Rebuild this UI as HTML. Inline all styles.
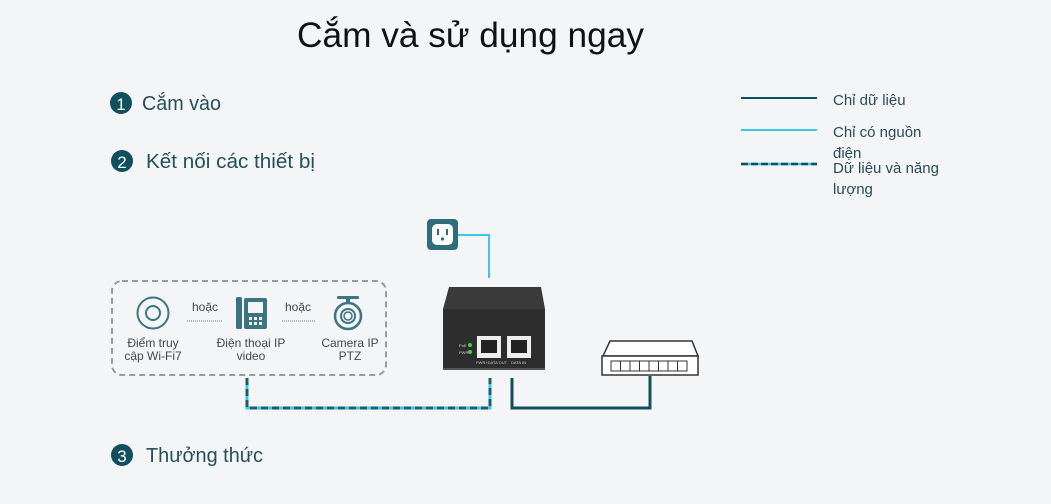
<!DOCTYPE html>
<html><head><meta charset="utf-8"><style>
html,body{margin:0;padding:0;background:#f4f5f7;}
svg{display:block;font-family:"Liberation Sans","Noto Sans CJK SC",sans-serif;}
</style></head><body>
<svg width="1051" height="504" viewBox="0 0 1051 504" xmlns="http://www.w3.org/2000/svg">
<rect width="1051" height="504" fill="#f4f5f7"/>
<text x="297" y="47" font-size="35" fill="#111" textLength="347" lengthAdjust="spacingAndGlyphs">Cắm và sử dụng ngay</text>

<g font-size="20" fill="#24505b">
<circle cx="121" cy="103" r="11" fill="#104f5c"/><text x="121" y="110" font-size="17" fill="#fff" text-anchor="middle">1</text>
<text x="142" y="110" textLength="79" lengthAdjust="spacingAndGlyphs">Cắm vào</text>
<circle cx="122" cy="161" r="11" fill="#104f5c"/><text x="122" y="168" font-size="17" fill="#fff" text-anchor="middle">2</text>
<text x="146" y="168" textLength="169" lengthAdjust="spacingAndGlyphs">Kết nối các thiết bị</text>
<circle cx="122" cy="455" r="11" fill="#104f5c"/><text x="122" y="462" font-size="17" fill="#fff" text-anchor="middle">3</text>
<text x="146" y="462" textLength="117" lengthAdjust="spacingAndGlyphs">Thưởng thức</text>
</g>

<!-- legend -->
<line x1="741" y1="98" x2="817" y2="98" stroke="#104f5c" stroke-width="2"/>
<line x1="741" y1="130" x2="817" y2="130" stroke="#3cc8e8" stroke-width="2"/>
<line x1="741" y1="164" x2="817" y2="164" stroke="#3cc8e8" stroke-width="2.5"/>
<line x1="741" y1="164" x2="817" y2="164" stroke="#104f5c" stroke-width="2.5" stroke-dasharray="7 3"/>
<g font-size="15" fill="#2b4a55">
<text x="833" y="105">Chỉ dữ liệu</text>
<text x="833" y="137">Chỉ có nguồn</text>
<text x="833" y="158">điện</text>
<text x="833" y="173">Dữ liệu và năng</text>
<text x="833" y="194">lượng</text>
</g>

<!-- dashed box -->
<rect x="112" y="281" width="274" height="94" rx="10" fill="none" stroke="#9a9a9a" stroke-width="2" stroke-dasharray="6 4"/>
<!-- AP -->
<circle cx="153" cy="313" r="15.5" fill="none" stroke="#3d7482" stroke-width="2"/>
<circle cx="153" cy="313" r="7" fill="none" stroke="#3d7482" stroke-width="2"/>
<!-- phone -->
<rect x="236" y="297" width="6" height="32" rx="1.5" fill="#3d7482"/>
<rect x="244" y="298" width="23" height="31" rx="2" fill="#3d7482"/>
<rect x="248" y="302" width="15" height="11" fill="#f4f5f7"/>
<g fill="#f4f5f7"><rect x="249" y="317" width="3" height="3"/><rect x="254" y="317" width="3" height="3"/><rect x="259" y="317" width="3" height="3"/><rect x="249" y="322" width="3" height="3"/><rect x="254" y="322" width="3" height="3"/><rect x="259" y="322" width="3" height="3"/></g>
<!-- camera -->
<rect x="337" y="296" width="22" height="3" rx="1" fill="#3d7482"/>
<rect x="346" y="298" width="4" height="4" fill="#3d7482"/>
<circle cx="348" cy="316" r="13" fill="none" stroke="#3d7482" stroke-width="2.5"/>
<circle cx="348" cy="316" r="7" fill="none" stroke="#3d7482" stroke-width="2"/>
<circle cx="348" cy="316" r="4" fill="none" stroke="#3d7482" stroke-width="1.5"/>
<g font-size="12" fill="#3a4a50" text-anchor="middle">
<text x="205" y="311">hoặc</text><text x="298" y="311">hoặc</text>
<text x="153" y="347">Điểm truy</text><text x="153" y="360">cập Wi-Fi7</text>
<text x="251" y="347">Điện thoại IP</text><text x="251" y="360">video</text>
<text x="350" y="347">Camera IP</text><text x="350" y="360">PTZ</text>
</g>
<line x1="187" y1="321" x2="222" y2="321" stroke="#777" stroke-width="1" stroke-dasharray="1 1"/>
<line x1="282" y1="321" x2="316" y2="321" stroke="#777" stroke-width="1" stroke-dasharray="1 1"/>

<!-- outlet -->
<rect x="427" y="219" width="31" height="31" rx="4" fill="#2f6d7a"/>
<rect x="432" y="224" width="21" height="21" rx="5" fill="#fff"/>
<rect x="437" y="229" width="2" height="6" fill="#2f6d7a"/><rect x="446" y="229" width="2" height="6" fill="#2f6d7a"/>
<circle cx="442.5" cy="239" r="1.6" fill="#2f6d7a"/>
<polyline points="458,235 489,235 489,278" fill="none" stroke="#3cc8e8" stroke-width="2"/>

<!-- PoE device -->
<polygon points="449,287 541,287 545,309 443,309" fill="#3a3a3a"/>
<rect x="443" y="309" width="102" height="61" fill="#2d2d2d"/>
<rect x="443" y="368" width="102" height="2" fill="#555"/>
<rect x="477" y="336" width="24" height="22" fill="#eee"/><rect x="481" y="340" width="16" height="13" fill="#222"/>
<rect x="507" y="336" width="24" height="22" fill="#eee"/><rect x="511" y="340" width="16" height="13" fill="#222"/>
<circle cx="470" cy="345" r="2" fill="#3fd43f"/><circle cx="470" cy="352" r="2" fill="#3fd43f"/>
<text x="459" y="347" font-size="4" fill="#ccc">PoE</text><text x="459" y="354" font-size="4" fill="#ccc">PWR</text>
<text x="476" y="364" font-size="4" fill="#ccc">PWR+DATA OUT</text><text x="511" y="364" font-size="4" fill="#ccc">DATA IN</text>

<!-- connectors -->
<polyline points="247,378 247,408 490,408 490,378" fill="none" stroke="#3cc8e8" stroke-width="3"/>
<polyline points="247,378 247,408 490,408 490,378" fill="none" stroke="#1a5f6d" stroke-width="3" stroke-dasharray="7 4"/>
<polyline points="512,378 512,408 650,408 650,376" fill="none" stroke="#104f5c" stroke-width="3"/>

<!-- switch -->
<polygon points="610,341 692,341 698,356 603,356" fill="#fff" stroke="#333" stroke-width="1.5"/>
<rect x="602" y="356" width="96" height="19" fill="#fff" stroke="#333" stroke-width="1.5"/>
<g fill="#fff" stroke="#333" stroke-width="1">
<rect x="611" y="361" width="9.5" height="10"/><rect x="620.5" y="361" width="9.5" height="10"/><rect x="630" y="361" width="9.5" height="10"/><rect x="639.5" y="361" width="9.5" height="10"/><rect x="649" y="361" width="9.5" height="10"/><rect x="658.5" y="361" width="9.5" height="10"/><rect x="668" y="361" width="9.5" height="10"/><rect x="677.5" y="361" width="9.5" height="10"/>
</g>
</svg>
</body></html>
